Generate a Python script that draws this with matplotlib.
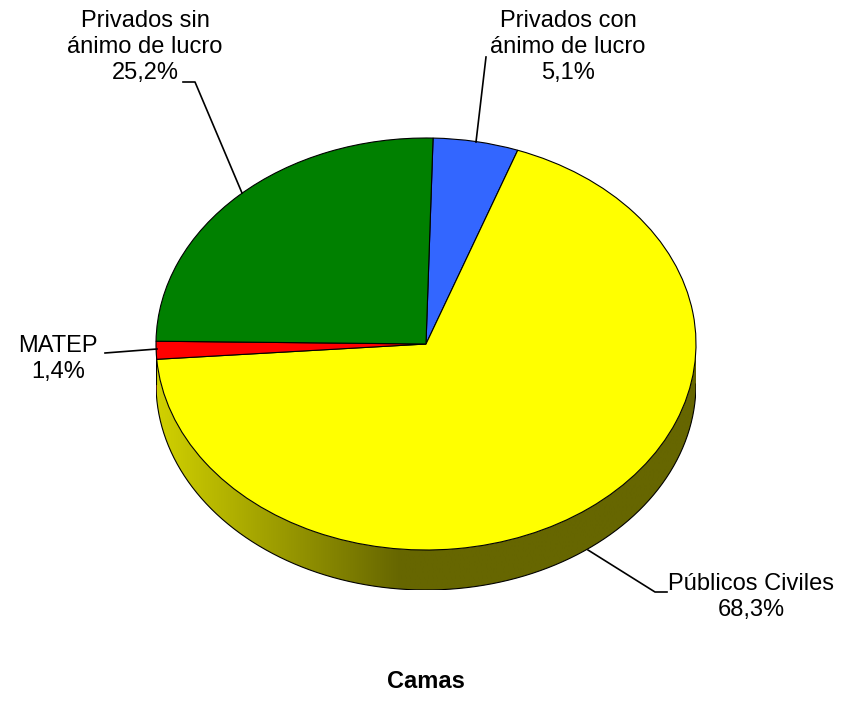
import numpy as np
import matplotlib
matplotlib.use('Agg')
from matplotlib import pyplot as plt
from matplotlib.patches import Polygon

plt.rcParams['font.family'] = ['Liberation Sans', 'DejaVu Sans']

# data
labels = ['Privados con\nánimo de lucro', 'Públicos Civiles', 'MATEP', 'Privados sin\nánimo de lucro']
values = [5.1, 68.3, 1.4, 25.2]
colors = ['#3366FF', '#FFFF00', '#FF0000', '#008000']
title = 'Camas'

W, H = 852, 708
cx, cy, rx, ry, depth = 426, 344, 270, 206, 40
start = 1.5  # degrees clockwise from 12 o'clock

fig = plt.figure(figsize=(W / 100, H / 100), dpi=100)

# pie axes: unit circle mapped onto the ellipse
d = depth / ry
top_px = cy - ry
bot_px = cy + ry + depth
ax = fig.add_axes([(cx - rx) / W, (H - bot_px) / H, 2 * rx / W, (bot_px - top_px) / H])

# side wall (front half only), shaded left->right
fr = np.array(values) / sum(values)
edges = start + 360 * np.concatenate([[0], np.cumsum(fr)])
xs = np.linspace(-1, 1, 400)
shade = np.interp(cx + rx * xs, [157, 400], [0.82, 0.40])
for i, c in enumerate(colors):
    a0, a1 = max(edges[i], 90), min(edges[i + 1], 270)
    if a1 <= a0:
        continue
    ang = np.radians(np.linspace(a0, a1, 200))
    top = np.column_stack([np.sin(ang), np.cos(ang)])
    bot = np.column_stack([np.sin(ang[::-1]), np.cos(ang[::-1]) - d])
    poly = Polygon(np.vstack([top, bot]), closed=True, facecolor='none', edgecolor='none')
    ax.add_patch(poly)
    base = np.array(matplotlib.colors.to_rgb(c))
    img = shade[None, :, None] * base[None, None, :]
    im = ax.imshow(img, extent=(-1, 1, -1 - d, 1), aspect='auto', interpolation='bilinear', zorder=1)
    im.set_clip_path(poly)
# outline of the wall
ang = np.radians(np.linspace(90, 270, 300))
ax.plot(np.sin(ang), np.cos(ang) - d, color='black', lw=0.8, zorder=2)
ax.plot([1, 1], [0, -d], color='black', lw=0.8, zorder=2)
ax.plot([-1, -1], [0, -d], color='black', lw=0.8, zorder=2)

wedges, _ = ax.pie(values, colors=colors, startangle=90 - start, counterclock=False,
                   radius=1, center=(0, 0), frame=False,
                   wedgeprops=dict(edgecolor='black', linewidth=0.8))
for w in wedges:
    w.set_zorder(3)
ax.set_xlim(-1, 1)
ax.set_ylim(-1 - d, 1)
ax.set_aspect('auto')
ax.axis('off')

# overlay for labels, pixel coordinates
ov = fig.add_axes([0, 0, 1, 1])
ov.set_xlim(0, W)
ov.set_ylim(H, 0)
ov.axis('off')

pct = [f'{v:.1f}'.replace('.', ',') + '%' for v in values]
fs = 17
ls = 1.25
ov.text(568, 47, labels[0] + '\n' + pct[0], ha='center', va='center', fontsize=fs, linespacing=ls)
ov.plot([476, 486], [142, 57], color='black', lw=1.2)

ov.text(145, 47, labels[3] + '\n' + pct[3], ha='center', va='center', fontsize=fs, linespacing=ls)
ov.plot([242, 195, 183], [193, 82, 82], color='black', lw=1.2)

ov.text(58, 359, labels[2] + '\n' + pct[2], ha='center', va='center', fontsize=fs, linespacing=ls)
ov.plot([105, 157], [353, 349], color='black', lw=1.2)

ov.text(751, 597, labels[1] + '\n' + pct[1], ha='center', va='center', fontsize=fs, linespacing=ls)
ov.plot([588, 655, 667], [550, 592, 592], color='black', lw=1.2)

ov.text(426, 681, title, ha='center', va='center', fontsize=fs, fontweight='bold')

fig.savefig('out.png', dpi=100)
